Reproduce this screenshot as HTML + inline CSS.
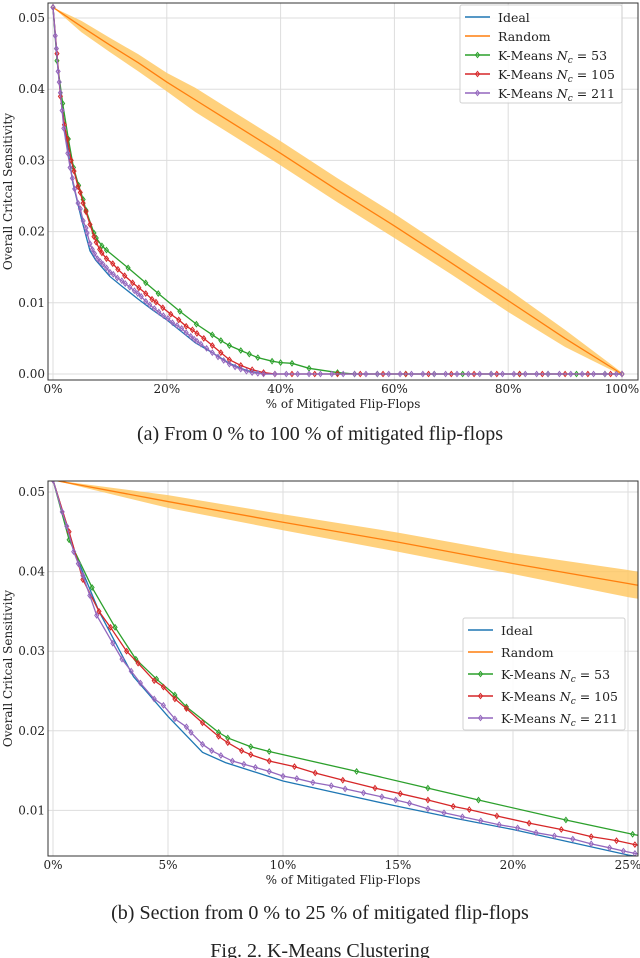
<!DOCTYPE html>
<html><head><meta charset="utf-8">
<style>
body{margin:0;background:#fff;width:640px;height:958px;overflow:hidden;font-family:"Liberation Serif",serif;}
svg{position:absolute;left:0;top:0}
text{font-family:"DejaVu Serif","Liberation Serif",serif;fill:#222}
</style></head>
<body>
<svg id="fig" width="640" height="958"></svg>
<script>
// ---- data (x in %, y = sensitivity) ----
const idealX = [0,1,2,3,3.5,5,6.5,7.5,10,12,15,17.5,20,22.5,25,28,31,34,37,100];
const idealY = [0.0515,0.042,0.035,0.0295,0.0268,0.0218,0.0173,0.016,0.0137,0.0124,0.0105,0.009,0.0076,0.006,0.0044,0.003,0.0015,0.0005,0,0];
const randX = [0,5,10,15,20,25,30,40,50,60,70,80,90,100];
const randY = [0.0515,0.0488,0.0462,0.0437,0.041,0.0385,0.036,0.031,0.0258,0.0208,0.0156,0.0103,0.005,0];
const randBand = [0,0.0008,0.001,0.0012,0.0013,0.0017,0.0017,0.0017,0.0017,0.0017,0.0016,0.0016,0.0012,0.0002];
const k53X = [0,0.7,1.7,2.7,3.6,4.5,5.3,5.8,7.2,7.6,8.6,9.4,13.2,16.3,18.5,22.3,25.2,28,29.5,31,33,34.5,36,38.5,40,42,45,50,53,57,62,67,72,77,82,87,92,97,100];
const k53Y = [0.0515,0.044,0.038,0.033,0.029,0.0265,0.0245,0.023,0.0198,0.0191,0.018,0.0174,0.0149,0.0128,0.0113,0.0088,0.007,0.0055,0.0047,0.004,0.0033,0.0028,0.0023,0.0018,0.0016,0.0015,0.0008,0.0002,0,0,0,0,0,0,0,0,0,0,0];
const k105X = [0,0.7,1.3,2.0,2.5,3.2,3.7,4.4,4.8,5.3,5.8,6.5,7.2,7.6,8.2,8.6,9.4,10.5,11.4,12.6,14,15.1,16.3,17.4,18.1,19.3,20.7,22.1,23.4,24.5,25.3,26.5,28,29.5,31,33,35,37,39,42,46,50,54,58,62,66,70,74,78,82,86,90,94,98,100];
const k105Y = [0.0515,0.045,0.039,0.035,0.033,0.030,0.0285,0.0263,0.0255,0.024,0.0228,0.021,0.0193,0.0185,0.0175,0.017,0.0162,0.0155,0.0147,0.0138,0.0128,0.0121,0.0113,0.0105,0.0101,0.0093,0.0084,0.0076,0.0067,0.0062,0.0057,0.005,0.004,0.003,0.002,0.0012,0.0006,0.0002,0,0,0,0,0,0,0,0,0,0,0,0,0,0,0,0,0];
const k211X = [0,0.4,0.6,0.9,1.1,1.3,1.6,1.9,2.6,3.0,3.4,3.8,4.4,4.8,5.3,5.8,6.0,6.5,6.9,7.3,7.8,8.3,8.8,9.4,10,10.6,11.3,12.1,12.7,13.5,14.3,14.9,15.5,16.3,17,17.8,18.6,19.4,20.2,21,21.8,22.6,23.4,24.2,24.8,25.3,26,27,28,29,30,31,32,33,34,35,36,37,39,41,43,45,47,49,51,53,55,57,59,61,63,65,67,69,71,73,75,77,79,81,83,85,87,89,91,93,95,97,99,100];
const k211Y = [0.0515,0.0475,0.0457,0.0425,0.041,0.0395,0.037,0.0345,0.031,0.029,0.0275,0.026,0.024,0.0232,0.0215,0.0205,0.0198,0.0183,0.0175,0.0169,0.0162,0.0158,0.0154,0.0149,0.0143,0.014,0.0135,0.0131,0.0127,0.0122,0.0117,0.0113,0.0109,0.0102,0.0097,0.0092,0.0087,0.0082,0.0078,0.0072,0.0068,0.0064,0.0058,0.0053,0.0049,0.0046,0.0042,0.0036,0.003,0.0024,0.0019,0.0014,0.001,0.0007,0.0004,0.0002,0.0001,0,0,0,0,0,0,0,0,0,0,0,0,0,0,0,0,0,0,0,0,0,0,0,0,0,0,0,0,0,0,0,0,0];
const topXTicks = [0,20,40,60,80,100];
const botXTicks = [0,5,10,15,20,25];
const topYTicks = [0,0.01,0.02,0.03,0.04,0.05];
const botYTicks = [0.01,0.02,0.03,0.04,0.05];

const NS='http://www.w3.org/2000/svg';
const svg=document.getElementById('fig');
function el(tag,attrs,parent){const e=document.createElementNS(NS,tag);for(const k in attrs)e.setAttribute(k,attrs[k]);(parent||svg).appendChild(e);return e;}

function drawChart(c){
  const g=el('g',{});
  
  
  const sx=v=>c.x0px+(v-c.xmin)*(c.x1px-c.x0px)/(c.xmax-c.xmin);
  const sy=v=>c.y0px+(v-c.ymin)*(c.y1px-c.y0px)/(c.ymax-c.ymin);
  const clipId=c.name+'-clip';
  const cp=el('clipPath',{id:clipId},g);
  el('rect',{x:c.L,y:c.T,width:c.R-c.L,height:c.B-c.T},cp);
  c.xt.forEach(t=>{const l=el('line',{x1:sx(t),x2:sx(t),y1:c.T,y2:c.B,stroke:'#ddd','stroke-width':1},g);
    });
  c.yt.forEach(t=>{const l=el('line',{x1:c.L,x2:c.R,y1:sy(t),y2:sy(t),stroke:'#ddd','stroke-width':1},g);
    });
  const pg=el('g',{'clip-path':'url(#'+clipId+')'},g);
  let d='M'+randX.map((x,i)=>sx(x)+','+sy(randY[i]+randBand[i])).join('L');
  for(let i=randX.length-1;i>=0;i--)d+='L'+sx(randX[i])+','+sy(randY[i]-randBand[i]);
  const band=el('path',{d:d+'Z',fill:'#ffc966',opacity:0.85},pg);
  
  const line=(xs,ys,col,name,mk)=>{
    const p=el('polyline',{points:xs.map((x,i)=>sx(x)+','+sy(ys[i])).join(' '),fill:'none',stroke:col,'stroke-width':1.3},pg);
    
    if(mk)xs.forEach((x,i)=>{const cx=sx(x),cy=sy(ys[i]),r=2.6;
      const m=el('path',{d:`M${cx},${cy-r}L${cx+r*0.75},${cy}L${cx},${cy+r}L${cx-r*0.75},${cy}Z`,fill:'none',stroke:col,'stroke-width':1},pg);
      });
  };
  line(idealX,idealY,'#1f77b4','ideal',false);
  line(randX,randY,'#ff7f0e','random',false);
  line(k53X,k53Y,'#2ca02c','kmeans-53',true);
  line(k105X,k105Y,'#d62728','kmeans-105',true);
  line(k211X,k211Y,'#9467bd','kmeans-211',true);
  const fr=el('rect',{x:c.L,y:c.T,width:c.R-c.L,height:c.B-c.T,fill:'none',stroke:'#333','stroke-width':1},g);
  
  c.xt.forEach(t=>{const tx=el('text',{x:sx(t),y:c.B+13,'font-size':12,'text-anchor':'middle'},g);tx.textContent=t+'%';
    });
  c.yt.forEach(t=>{const tx=el('text',{x:c.L-3,y:sy(t)+4,'font-size':12,'text-anchor':'end'},g);tx.textContent=t.toFixed(2);
    });
  const xl=el('text',{x:(c.L+c.R)/2,y:c.B+28,'font-size':12,'text-anchor':'middle'},g);xl.textContent='% of Mitigated Flip-Flops';
  
  const yl=el('text',{x:0,y:0,'font-size':12,'text-anchor':'middle',transform:`translate(12,${(c.T+c.B)/2}) rotate(-90)`},g);yl.textContent='Overall Critcal Sensitivity';
  
  const lg=el('g',{},g);
  el('rect',{x:c.lx,y:c.ly,width:162,height:c.lh,fill:'#fff',stroke:'#ccc',rx:2,opacity:0.9},lg);
  const items=[['Ideal','#1f77b4',0,''],['Random','#ff7f0e',0,''],['K-Means ','#2ca02c',1,'53'],['K-Means ','#d62728',1,'105'],['K-Means ','#9467bd',1,'211']];
  items.forEach((it,i)=>{const y=c.ly+12+i*c.ls;
    const e=el('g',{},lg);
    el('line',{x1:c.lx+5,x2:c.lx+30,y1:y,y2:y,stroke:it[1],'stroke-width':1.4},e);
    if(it[2])el('path',{d:`M${c.lx+17.5},${y-2.6}L${c.lx+19.5},${y}L${c.lx+17.5},${y+2.6}L${c.lx+15.5},${y}Z`,fill:'none',stroke:it[1]},e);
    const t=el('text',{x:c.lx+38,y:y+5,'font-size':12.5},e);
    if(it[2]){t.innerHTML=`K-Means <tspan font-style="italic">N</tspan><tspan font-style="italic" font-size="9" dy="3">c</tspan><tspan dy="-3"> = ${it[3]}</tspan>`;}
    else t.textContent=it[0];
  });
}
drawChart({name:'chart-full',L:48,R:638,T:3,B:380,x0px:53,x1px:622,xmin:0,xmax:100,y0px:374,y1px:18,ymin:0,ymax:0.05,xt:topXTicks,yt:topYTicks,lx:460,ly:5,lh:98,ls:19});
drawChart({name:'chart-zoom',L:48,R:638,T:481,B:856,x0px:53,x1px:628,xmin:0,xmax:25,y0px:890,y1px:492,ymin:0,ymax:0.05,xt:botXTicks,yt:botYTicks,lx:463,ly:618,lh:112,ls:22});
const caps=[[320,440,'(a) From 0 % to 100 % of mitigated flip-flops','caption-a'],[320,919,'(b) Section from 0 % to 25 % of mitigated flip-flops','caption-b'],[320,957,'Fig. 2.  K-Means Clustering','figure-caption']];
caps.forEach(c=>{const t=el('text',{x:c[0],y:c[1],'font-size':20,'text-anchor':'middle',style:'font-family:"Liberation Serif",serif'});t.textContent=c[2];
  });
</script>
</body></html>
